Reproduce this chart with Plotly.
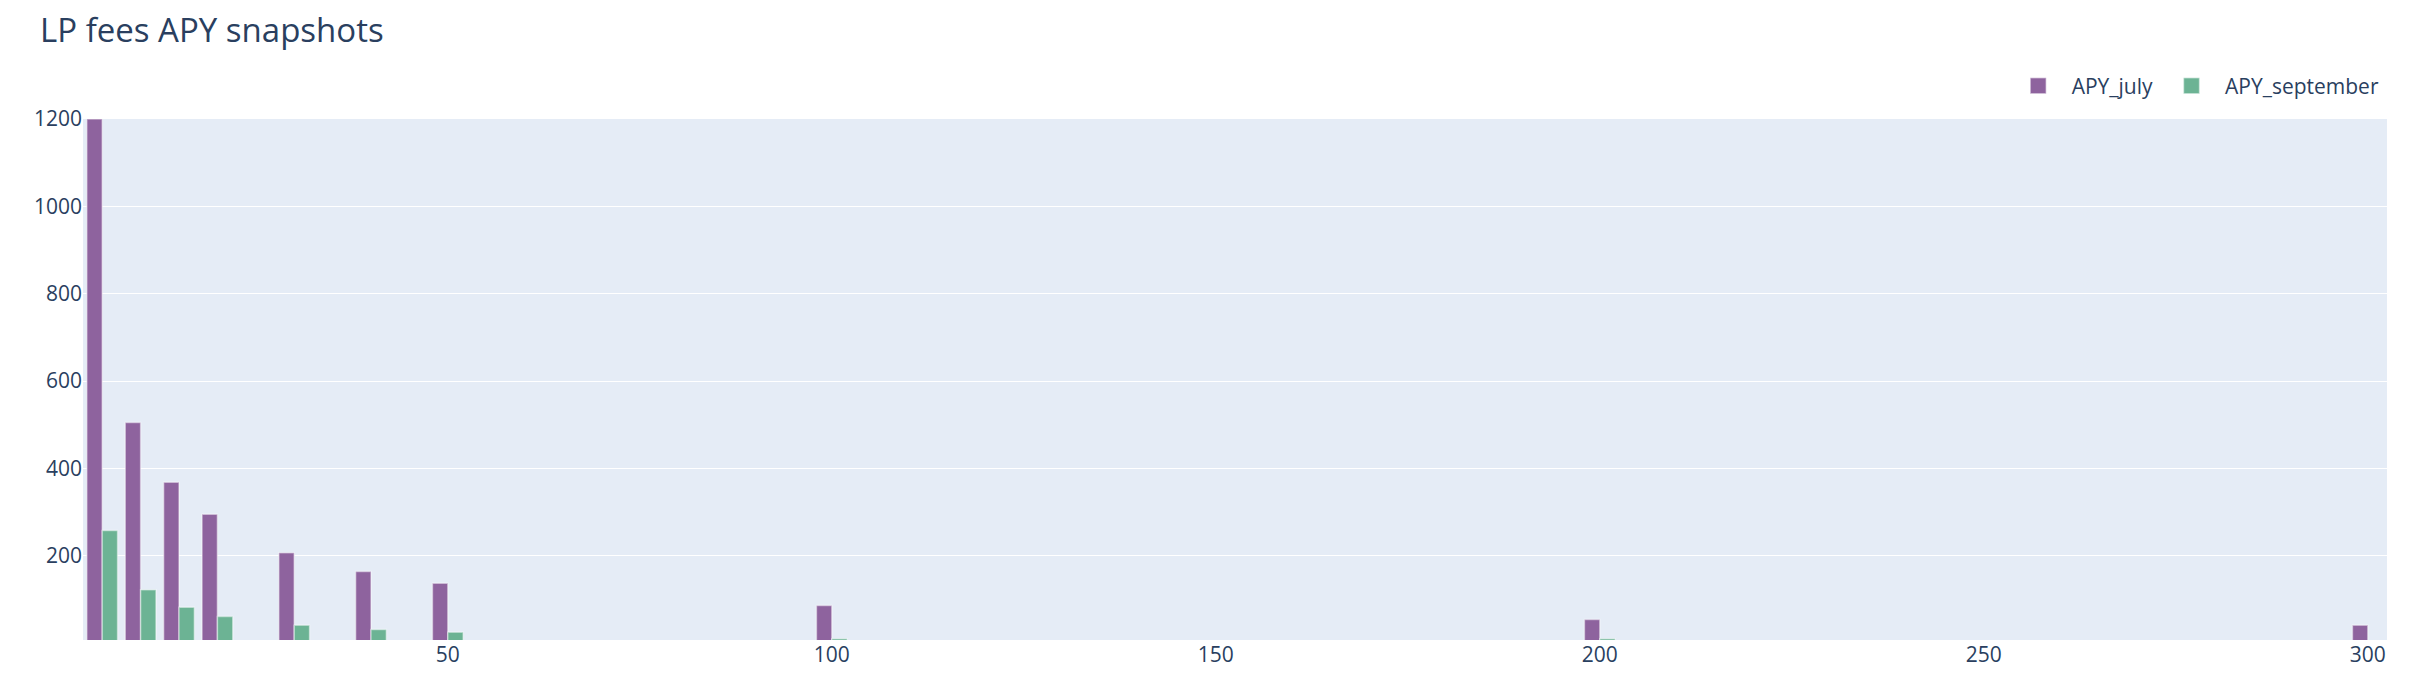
import plotly.graph_objects as go

fee_tier = [5, 10, 15, 20, 30, 40, 50, 100, 200, 300]
apy_july = [1200, 505, 368, 295, 207, 164, 137, 86, 54, 41]
apy_september = [258, 122, 82, 61, 41, 31, 25, 10, 10, 5]

series_names = ["APY_july", "APY_september"]
series_colors = ["rgb(142,99,158)", "rgb(108,179,148)"]
edge = "rgba(255,255,255,0.45)"

W, H = 2402, 660  # page body has an 8px margin

fig = go.Figure()
for name, vals, col in zip(series_names, [apy_july, apy_september], series_colors):
    fig.add_trace(go.Bar(
        x=fee_tier, y=vals, name=name, showlegend=False,
        marker=dict(color=col, line=dict(color=edge, width=1.5)),
    ))
# legend entries with larger square swatches
for name, col in zip(series_names, series_colors):
    fig.add_trace(go.Scatter(
        x=[None], y=[None], name=name, mode="markers", hoverinfo="skip",
        marker=dict(symbol="square", size=16, color=col, line=dict(color=edge, width=1.5)),
    ))

fig.update_layout(
    width=W, height=H,
    barmode="group",
    font=dict(family="Open Sans, verdana, arial, sans-serif", size=21, color="#2a3f5f"),
    title=dict(text="LP fees APY snapshots", font=dict(size=33),
               x=32 / W, xanchor="left", xref="container",
               y=1 - 22 / H, yanchor="middle", yref="container"),
    margin=dict(l=75, r=23, t=111, b=28, autoexpand=False),
    paper_bgcolor="white",
    plot_bgcolor="#E5ECF6",
    legend=dict(orientation="h", x=0.999, xanchor="right", y=1.063, yanchor="middle",
                itemwidth=57, font=dict(size=21)),
    xaxis=dict(showgrid=False, zeroline=False, tickvals=[50, 100, 150, 200, 250, 300]),
    yaxis=dict(range=[7, 1200], dtick=200, tick0=0, gridcolor="white", zeroline=False),
)

fig.write_html("out.html")
